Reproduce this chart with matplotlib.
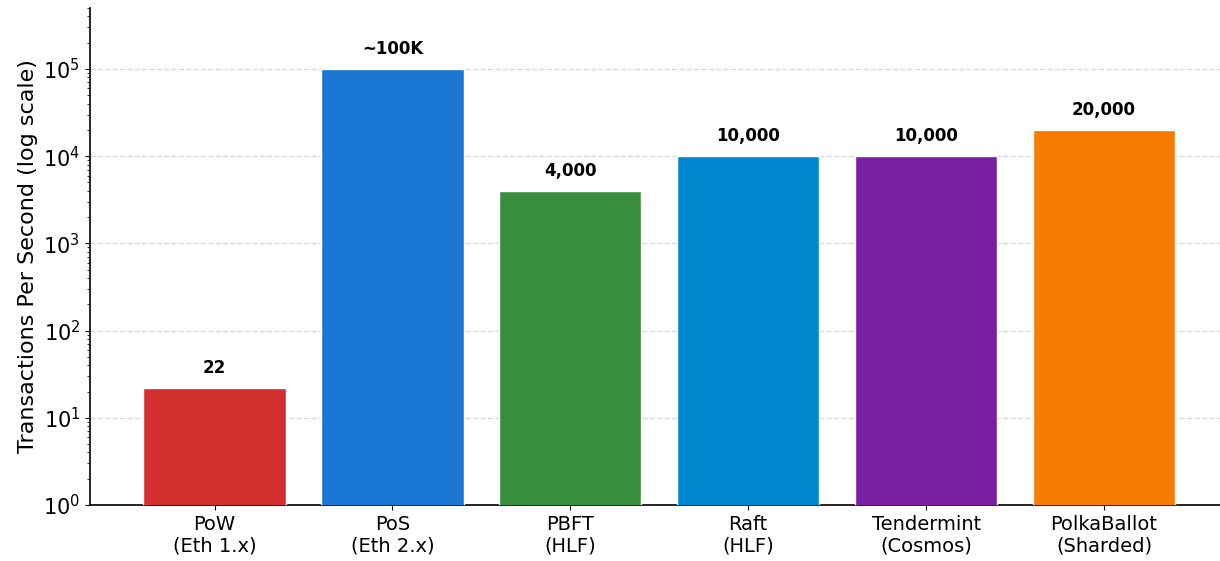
import matplotlib
matplotlib.use("Agg")
import matplotlib.pyplot as plt

categories = ["PoW\n(Eth 1.x)", "PoS\n(Eth 2.x)", "PBFT\n(HLF)", "Raft\n(HLF)", "Tendermint\n(Cosmos)", "PolkaBallot\n(Sharded)"]
tps = [22, 100000, 4000, 10000, 10000, 20000]
value_labels = ["22", "~100K", "4,000", "10,000", "10,000", "20,000"]
colors = ["#d32f2f", "#1976d2", "#388e3c", "#0288d1", "#7b1fa2", "#f57c00"]

fig = plt.figure(figsize=(12.2, 5.61), dpi=100)
ax = fig.add_axes([90/1220, 56/561, 1135/1220, 497/561])

x = list(range(len(categories)))
ax.bar(x, tps, width=0.8, color=colors, edgecolor="white", linewidth=1, zorder=3)
ax.set_yscale("log")
ax.set_ylim(1, 5e5)
ax.set_xlim(-0.7, 5.68)
ax.set_xticks(x)
ax.set_xticklabels(categories, fontsize=14)
ax.tick_params(axis="y", labelsize=15)
ax.set_ylabel("Transactions Per Second (log scale)", fontsize=16)
ax.grid(axis="y", which="major", linestyle="--", linewidth=1.0, color="#d0d0d0", alpha=0.8, zorder=0)
for s in ["left", "bottom"]:
    ax.spines[s].set_linewidth(1.2)
ax.spines["top"].set_visible(False)
ax.spines["right"].set_visible(False)

for xi, v, lab in zip(x, tps, value_labels):
    ax.text(xi, v * 1.35, lab, ha="center", va="bottom", fontsize=12, fontweight="bold")

fig.savefig("out.png", dpi=100)
